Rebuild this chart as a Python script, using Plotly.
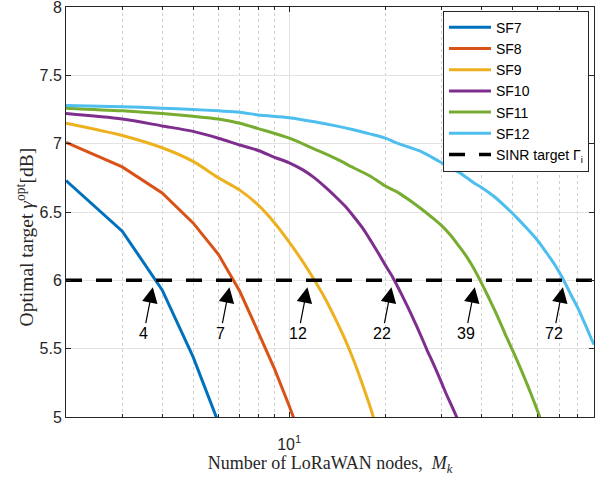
import plotly.graph_objects as go
import math

# ---------------- data ----------------
M_sf7 = [2, 3, 4, 5, 6]
g_sf7 = [6.73, 6.36, 5.93, 5.44, 4.96]

M_sf8 = [2, 3, 4, 5, 6, 7, 8, 9, 10, 11]
g_sf8 = [7.01, 6.83, 6.64, 6.42, 6.19, 5.92, 5.62, 5.35, 5.08, 4.82]

M_sf9 = list(range(2, 20))
g_sf9 = [7.15, 7.06, 6.97, 6.87, 6.75, 6.66, 6.55, 6.42, 6.28, 6.14,
         6.00, 5.86, 5.71, 5.56, 5.40, 5.23, 5.06, 4.88]

M_sf10 = list(range(2, 35))
g_sf10 = [7.22, 7.18, 7.13, 7.09, 7.04, 6.99, 6.95, 6.90, 6.86, 6.81,
          6.75, 6.68, 6.61, 6.54, 6.46, 6.38, 6.29, 6.20, 6.11, 6.03,
          5.94, 5.85, 5.76, 5.67, 5.58, 5.49, 5.41, 5.33, 5.25, 5.17,
          5.10, 5.03, 4.96]

M_sf11 = [2, 3, 4, 5, 6, 7, 8, 10, 12, 14, 16, 18, 20, 22, 24, 26, 28, 30,
          32, 34, 36, 38, 40, 42, 44, 46, 48, 50, 52, 54, 56, 58, 60, 62]
g_sf11 = [7.26, 7.24, 7.22, 7.20, 7.18, 7.15, 7.11, 7.04, 6.96, 6.89,
          6.82, 6.76, 6.69, 6.64, 6.58, 6.52, 6.46, 6.40, 6.33, 6.25,
          6.17, 6.08, 5.98, 5.88, 5.78, 5.68, 5.58, 5.49, 5.40, 5.31,
          5.22, 5.13, 5.04, 4.95]

M_sf12 = [2, 3, 4, 5, 6, 7, 8, 10, 12, 14, 16, 18, 20, 22, 24, 26, 28, 30,
          32, 34, 36, 38, 40, 44, 48, 52, 56, 60, 64, 68, 72, 76, 80, 84, 88, 90]
g_sf12 = [7.28, 7.27, 7.26, 7.25, 7.24, 7.23, 7.21, 7.19, 7.16, 7.13,
          7.10, 7.07, 7.04, 7.00, 6.97, 6.94, 6.90, 6.86, 6.82, 6.79,
          6.75, 6.71, 6.68, 6.61, 6.53, 6.45, 6.37, 6.29, 6.20, 6.11,
          6.01, 5.90, 5.80, 5.69, 5.58, 5.53]

M_target = [2, 90]
g_target = [6.0, 6.0]

series_names = ["SF7", "SF8", "SF9", "SF10", "SF11", "SF12"]
series_M = [M_sf7, M_sf8, M_sf9, M_sf10, M_sf11, M_sf12]
series_g = [g_sf7, g_sf8, g_sf9, g_sf10, g_sf11, g_sf12]
colors = ["#0072BD", "#D95319", "#EDB120", "#7E2F8E", "#77AC30", "#4DBEEE"]
shapes = ["linear", "linear", "spline", "spline", "spline", "spline"]

# crossing annotations: label and crossing M
cross_labels = ["4", "7", "12", "22", "39", "72"]
cross_M = [3.74, 6.5, 11.4, 20.9, 38.1, 71.9]

x_tick_vals = [10]
x_tick_text = ["10<sup>1</sup>"]
y_tick_vals = [5, 5.5, 6, 6.5, 7, 7.5, 8]
y_tick_text = ["5", "5.5", "6", "6.5", "7", "7.5", "8"]
minor_vals = [2, 3, 4, 5, 6, 7, 8, 9, 20, 30, 40, 50, 60, 70, 80, 90]

x_title = "Number of LoRaWAN nodes,  <i>M</i><sub><i>k</i></sub>"
y_title = "Optimal target <i>\u03b3</i><sup>opt</sup>[dB]"

# ---------------- figure ----------------
fig = go.Figure()
for name, M, g, c, s in zip(series_names, series_M, series_g, colors, shapes):
    fig.add_trace(go.Scatter(x=M, y=g, mode="lines", name=name,
                             line=dict(color=c, width=3, shape=s, smoothing=0.8)))
fig.add_trace(go.Scatter(x=M_target, y=g_target, mode="lines",
                         name="SINR target \u0393<sub>i</sub>",
                         line=dict(color="black", width=3.5, dash="16px,14px")))

for lab, mx in zip(cross_labels, cross_M):
    fig.add_annotation(x=math.log10(mx), y=5.95, xref="x", yref="y",
                       text=lab, showarrow=True, ax=-9, ay=46,
                       arrowhead=2, arrowsize=2.6, arrowwidth=1.2,
                       arrowcolor="black",
                       font=dict(family="Liberation Sans", size=16, color="black"))

axis_col = "#262626"
grid_col = "#e3e3e3"

# y-axis title as a rotated annotation (centred like the reference)
fig.add_annotation(text=y_title, xref="paper", yref="paper",
                   x=-0.078, y=0.44, xanchor="center", yanchor="middle",
                   textangle=-90, showarrow=False,
                   font=dict(family="Liberation Serif", size=19.5, color=axis_col))

fig.update_layout(
    width=606, height=478,
    margin=dict(l=66, r=12, t=7, b=61, autoexpand=False),
    paper_bgcolor="white", plot_bgcolor="white",
    font=dict(family="Liberation Sans", size=16, color=axis_col),
    showlegend=True,
    legend=dict(x=0.9905, y=0.991, xanchor="right", yanchor="top",
                bgcolor="white", bordercolor=axis_col, borderwidth=1,
                font=dict(family="Liberation Sans", size=14, color="black"),
                tracegroupgap=0, itemwidth=42),
    xaxis=dict(type="log", range=[math.log10(2), math.log10(90)],
               automargin=False,
               tickvals=x_tick_vals, ticktext=x_tick_text,
               ticks="inside", ticklen=5, tickcolor=axis_col,
               showline=True, linecolor=axis_col, linewidth=1, mirror="allticks",
               showgrid=True, gridcolor=grid_col, gridwidth=1,
               zeroline=False, ticklabeloverflow="allow", ticklabelstandoff=13,
               minor=dict(tickvals=minor_vals, ticks="inside", ticklen=3,
                          tickcolor=axis_col, showgrid=True,
                          gridcolor="#d0d0d0", griddash="dot", gridwidth=1),
               title=dict(text=x_title,
                          font=dict(family="Liberation Serif", size=18, color=axis_col),
                          standoff=4),
               tickfont=dict(family="Liberation Sans", size=16, color=axis_col)),
    yaxis=dict(range=[5, 8], tickvals=y_tick_vals, ticktext=y_tick_text,
               automargin=False, ticklabeloverflow="allow",
               ticks="inside", ticklen=5, tickcolor=axis_col,
               showline=True, linecolor=axis_col, linewidth=1, mirror="allticks",
               showgrid=True, gridcolor=grid_col, gridwidth=1, zeroline=False,
               tickfont=dict(family="Liberation Sans", size=16, color=axis_col)),
)

fig.write_html("out.html", config={"displayModeBar": False},
               post_script="document.body.style.margin='0px';document.body.style.padding='0px';")
